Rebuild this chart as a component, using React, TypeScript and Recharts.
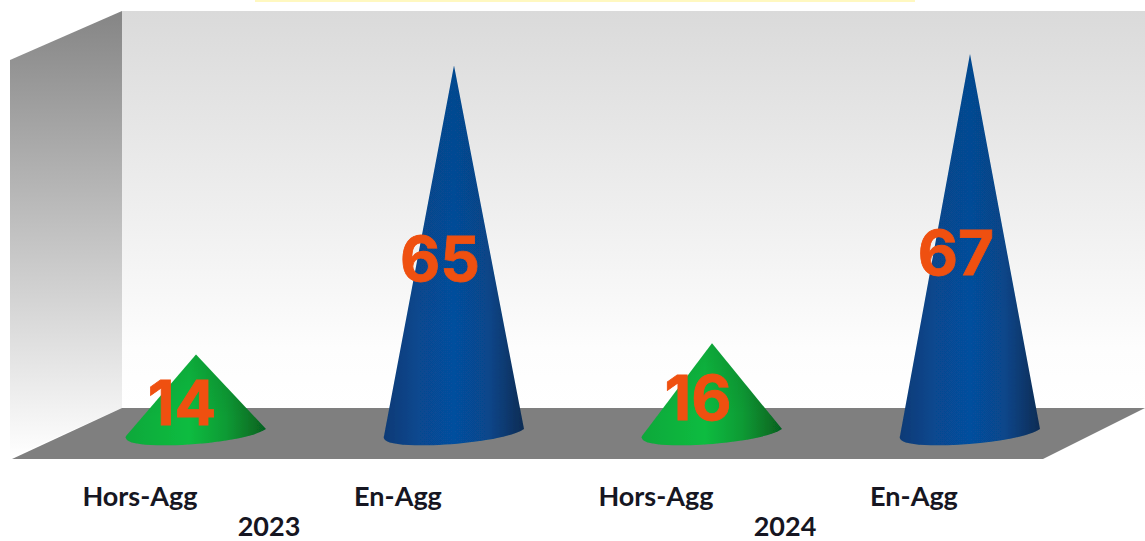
import React from "react";
import { BarChart, Bar, XAxis, YAxis, Cell, LabelList } from "recharts";

const categories = ["Hors-Agg", "En-Agg", "Hors-Agg", "En-Agg"];
const years = ["2023", "2023", "2024", "2024"];
const values = [14, 65, 16, 67];
const gradients = ["url(#coneGreen)", "url(#coneBlue)", "url(#coneGreen)", "url(#coneBlue)"];
const data = categories.map((category, i) => ({ key: `${years[i]}-${category}`, category, year: years[i], value: values[i] }));

const tickFont = 'Lato, sans-serif';

const Cone = (props: any) => {
  const { x, y, width, height, fill } = props;
  const cx = x + width / 2;
  const b = y + height;
  const d = `M ${cx} ${y} L ${x + width} ${b - 5} C ${cx + 48} ${b + 10} ${x + 12} ${b + 17} ${x + 1} ${b + 6} Q ${x - 1} ${b + 4} ${x} ${b + 2} Z`;
  return (
    <g filter="url(#soft)">
      <path d={d} fill={fill} />
      <path d={d} fill="url(#coneShade)" />
    </g>
  );
};

const ValueLabel = (props: any) => {
  const { x, y, width, height, value } = props;
  return (
    <text x={x + width / 2 - 14} y={y + height / 2 + 31} textAnchor="middle" fill="#ef5010" stroke="#ef5010" strokeWidth={0.8}
      style={{ fontFamily: "Inter, sans-serif", fontWeight: 700, fontSize: 62 }}>
      {value}
    </text>
  );
};

const CategoryTick = (props: any) => {
  const { x, y, payload } = props;
  return (
    <text x={x - 56} y={y + 64} textAnchor="middle" fill="#161622"
      style={{ fontFamily: tickFont, fontWeight: 700, fontSize: 27 }}>
      {payload.value}
    </text>
  );
};

const YearTick = (props: any) => {
  const { x, y, payload, index } = props;
  if (index % 2 !== 0) return <g />;
  return (
    <text x={x + 73} y={y + 24} textAnchor="middle" fill="#161622"
      style={{ fontFamily: tickFont, fontWeight: 700, fontSize: 27 }}>
      {payload.value}
    </text>
  );
};

export default function App() {
  return (
    <div style={{ position: "absolute", left: 0, top: 0, width: 1145, height: 541, background: "#fff" }}>
      <BarChart width={1145} height={541} data={data} margin={{ top: 3, right: 46, bottom: 0, left: 67 }} barSize={140}>
        <defs>
          <filter id="soft" x="-5%" y="-5%" width="110%" height="110%">
            <feGaussianBlur stdDeviation="0.6" />
          </filter>
          <linearGradient id="backWall" x1="0" y1="0" x2="0" y2="1">
            <stop offset="0" stopColor="#dadada" />
            <stop offset="0.85" stopColor="#fdfdfd" />
            <stop offset="1" stopColor="#ffffff" />
          </linearGradient>
          <linearGradient id="sideWall" x1="0" y1="0" x2="0" y2="1">
            <stop offset="0" stopColor="#858585" />
            <stop offset="1" stopColor="#ffffff" />
          </linearGradient>
          <linearGradient id="coneBlue" x1="0" y1="0" x2="1" y2="0">
            <stop offset="0" stopColor="#0a3a76" />
            <stop offset="0.25" stopColor="#07488f" />
            <stop offset="0.5" stopColor="#064f9e" />
            <stop offset="0.75" stopColor="#07468a" />
            <stop offset="1" stopColor="#0a2c54" />
          </linearGradient>
          <linearGradient id="coneGreen" x1="0" y1="0" x2="1" y2="0">
            <stop offset="0" stopColor="#0fa83a" />
            <stop offset="0.45" stopColor="#0cbc40" />
            <stop offset="0.72" stopColor="#0a9a34" />
            <stop offset="1" stopColor="#06601f" />
          </linearGradient>
          <linearGradient id="coneShade" x1="0" y1="0" x2="0" y2="1">
            <stop offset="0" stopColor="#000" stopOpacity="0.1" />
            <stop offset="0.7" stopColor="#000" stopOpacity="0" />
          </linearGradient>
        </defs>
        <rect x={255} y={0} width={660} height={2} fill="#fff8c0" />
        <polygon points="122,11 1145,11 1145,408 122,408" fill="url(#backWall)" />
        <polygon points="10,60 122,11 122,408 10,458" fill="url(#sideWall)" />
        <polygon points="122,408 1145,408 1043,459 12,459" fill="#7f7f7f" />
        <XAxis dataKey="category" xAxisId={0} height={70} axisLine={false} tickLine={false} tick={<CategoryTick />} interval={0} />
        <XAxis dataKey="year" xAxisId={1} height={37} axisLine={false} tickLine={false} tick={<YearTick />} interval={0} />
        <YAxis hide domain={[0, 76]} />
        <Bar dataKey="value" xAxisId={0} shape={<Cone />} isAnimationActive={false}>
          {data.map((d, i) => (
            <Cell key={d.key} fill={gradients[i]} />
          ))}
          <LabelList dataKey="value" content={<ValueLabel />} />
        </Bar>
      </BarChart>
    </div>
  );
}
